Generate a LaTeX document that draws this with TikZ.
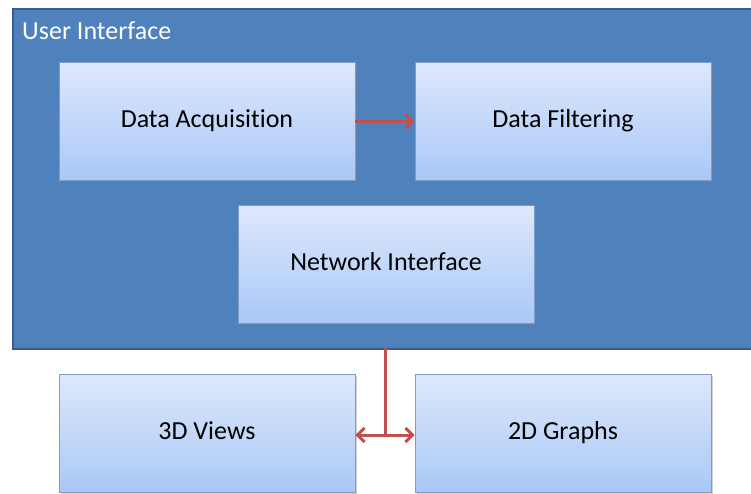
\documentclass[tikz,border=0pt]{standalone}
\usepackage{fontspec}
\setmainfont{Carlito}[Ligatures=NoCommon]
\usetikzlibrary{arrows.meta,shadows}
\definecolor{uiblue}{HTML}{4F81BD}
\definecolor{uiborder}{HTML}{385D8A}
\definecolor{boxtop}{HTML}{DEE8FB}
\definecolor{boxbot}{HTML}{A9C8F7}
\definecolor{boxborder}{HTML}{7D9CC8}
\definecolor{arrowred}{HTML}{C0504D}
\tikzset{
  x=1pt, y=-1pt,
  modbox/.style={draw=boxborder, line width=0.8pt, top color=boxtop, bottom color=boxbot,
    minimum width=296pt, minimum height=118pt, font=\fontsize{26}{30}\selectfont, text=black,
    text height=17pt, text depth=4pt,
    drop shadow={shadow xshift=1.5pt, shadow yshift=-1.5pt, opacity=0.35}},
  conn/.style={draw=arrowred, line width=3pt, -{Straight Barb[length=7pt,width=14pt]}},
  connline/.style={draw=arrowred, line width=3pt}
}
\begin{document}
\begin{tikzpicture}
\useasboundingbox (0,0) rectangle (751,493);
\begin{scope}
\clip (0,0) rectangle (751,493);
\node[draw=uiborder, line width=1.8pt, fill=uiblue, anchor=north west, minimum width=760pt, minimum height=340pt, inner sep=0pt] (ui) at (12,8) {};
\end{scope}
\node[anchor=base west, text=white, font=\fontsize{26}{30}\selectfont, inner sep=0pt] (uilabel) at (22,39) {User Interface};
\node[modbox] (acq) at (207,121) {Data Acquisition};
\node[modbox] (filt) at (563,121) {Data Filtering};
\node[modbox] (net) at (386,264) {Network Interface};
\node[modbox] (v3d) at (207,433) {3D Views};
\node[modbox] (g2d) at (563,433) {2D Graphs};
\coordinate (top) at (385,348);
\coordinate (mid) at (385,435);
\draw[conn] (acq.east) -- (filt.west);
\draw[connline] (top) -- (mid);
\draw[conn] (mid) -- (v3d.east |- mid);
\draw[conn] (mid) -- (g2d.west |- mid);
\end{tikzpicture}
\end{document}
